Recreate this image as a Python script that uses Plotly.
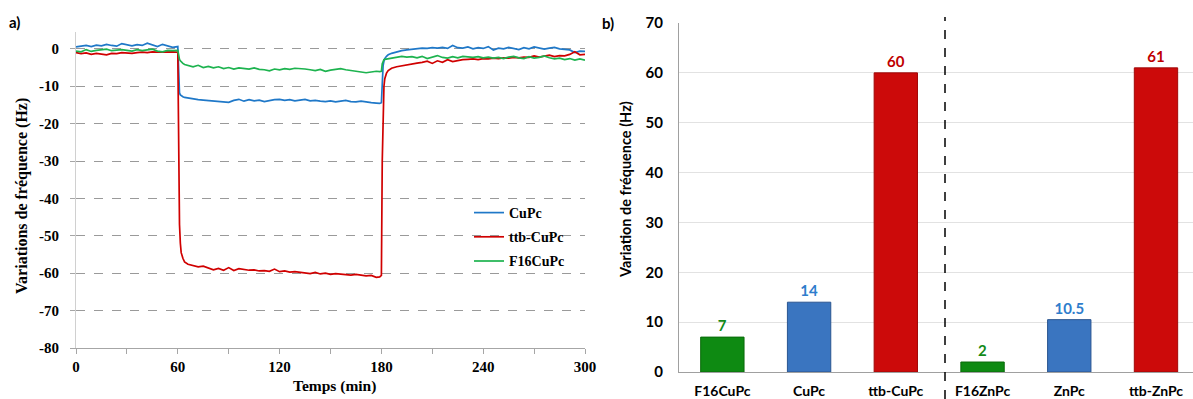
import plotly.graph_objects as go

# ---------------- data: panel a) ----------------
temps = [0, 3, 6, 9, 12, 15, 18, 21, 24, 27, 30, 33, 36, 39, 42, 45, 48, 51, 54, 57, 60,
         60.5, 61, 61.5, 62, 63, 64,
         66, 69, 72, 75, 78, 81, 84, 87, 90, 93, 96, 99, 102, 105, 108, 111, 114, 117, 120,
         123, 126, 129, 132, 135, 138, 141, 144, 147, 150, 153, 156, 159, 162, 165, 168, 171, 174, 177,
         179, 180, 180.5, 181, 181.5, 182, 183, 184,
         186, 189, 192, 195, 198, 201, 204, 207, 210, 213, 216, 219, 222, 225, 228, 231, 234, 237, 240,
         243, 246, 249, 252, 255, 258, 261, 264, 267, 270, 273, 276, 279, 282, 285, 288, 291, 294, 297, 300]

cupc = [0.5, 0.7, 0.9, 0.6, 1.0, 0.8, 1.2, 0.9, 0.7, 1.4, 1.0, 0.8, 1.1, 0.9, 1.5, 1.0, 0.6, 1.2, 0.8, 0.4, 0.6,
        -9.0, -11.8, -12.3, -12.5, -12.8, -13.0,
        -13.2, -13.4, -13.6, -13.7, -13.8, -13.9, -13.9, -14.0, -14.3, -13.8, -13.5, -14.0, -13.6, -13.9, -13.7,
        -14.1, -13.8, -13.6, -13.5, -13.8, -13.6, -13.9, -13.7, -13.5, -13.9, -13.8, -14.0, -14.1, -13.9, -14.2,
        -14.0, -13.8, -14.1, -14.2, -14.0, -14.3, -14.4, -14.5,
        -14.6, -14.4, -8.0, -4.5, -3.3, -2.6, -2.0, -1.6,
        -1.2, -0.8, -0.5, -0.3, -0.1, 0.1, 0.2, 0.1, 0.3, 0.2, 0.4, 0.1, 0.9, 0.3, 0.2, 0.5, 0.0, 0.3, 0.1, 0.6,
        -0.3, 0.2, 0.0, 0.4, 0.1, -0.2, 0.3, 0.0, 0.5, 0.1, -0.1, 0.2, 0.4, 0.0, -0.1, -0.3, -1.0, -0.6, -0.7]

ttb_cupc = [-1.0, -1.3, -1.1, -1.5, -1.2, -1.4, -1.6, -1.2, -1.3, -1.0, -1.1, -1.2, -1.0, -0.9, -1.0, -0.8,
            -0.9, -0.8, -0.7, -0.8, -0.9,
            -30.0, -47.0, -52.0, -54.5, -56.0, -57.0,
            -57.6, -58.0, -58.3, -58.1, -58.6, -59.1, -58.7, -59.2, -58.5, -59.3, -58.8, -59.0, -59.2, -59.1,
            -59.4, -59.3, -59.5, -58.9, -59.6, -59.4, -59.7, -59.6, -59.8, -59.9, -60.1, -59.8, -60.2, -60.0,
            -60.3, -60.1, -60.2, -60.4, -60.5, -60.3, -60.6, -60.7, -60.6, -61.1,
            -61.0, -60.6, -30.0, -14.5, -10.0, -8.0, -6.5, -5.8,
            -5.2, -4.8, -4.5, -4.3, -4.0, -3.8, -3.6, -3.3, -3.9, -3.2, -3.6, -2.9, -3.4, -3.1, -2.9, -2.8,
            -2.7, -2.9, -2.6, -2.7, -2.5, -2.6, -2.4, -2.5, -2.3, -2.4, -2.2, -2.3, -1.9, -2.2, -2.0, -1.7,
            -2.1, -1.8, -1.9, -1.5, -0.8, -1.6, -1.5]

f16cupc = [-0.6, -0.8, -0.2, -0.7, -0.4, -0.3, -0.1, -0.5, -0.3, -0.2, -0.4, -0.6, -0.2, -0.5, -0.3, -0.1,
           -0.6, -0.8, -0.4, -0.5, -0.4,
           -2.0, -2.8, -3.2, -3.5, -3.9, -4.2,
           -4.5, -4.8, -4.4, -5.0, -4.7, -5.1, -4.8, -5.3, -5.0, -5.4, -5.1, -5.2, -5.4, -5.1, -5.5, -5.6,
           -5.9, -5.4, -5.6, -5.3, -5.5, -5.2, -5.2, -5.4, -5.6, -5.8, -5.5, -6.0, -5.7, -5.4, -5.3, -5.6,
           -5.8, -5.9, -6.1, -6.4, -6.2, -6.0,
           -6.1, -6.0, -4.0, -3.0, -2.9, -2.8, -2.7, -2.6,
           -2.5, -2.3, -2.0, -2.2, -2.1, -2.4, -2.0, -2.6, -2.2, -1.8, -2.3, -2.5, -2.1, -2.4, -2.0, -2.2,
           -2.3, -2.1, -2.4, -2.2, -2.5, -2.3, -2.6, -2.2, -2.0, -2.4, -2.6, -2.1, -2.5, -2.3, -1.9, -2.4,
           -2.7, -2.5, -2.9, -2.6, -3.0, -2.7, -3.0]

a_xtickvals = [0, 30, 60, 90, 120, 150, 180, 210, 240, 270, 300]
a_xticktext = ["0", "", "60", "", "120", "", "180", "", "240", "", "300"]
a_ytickvals = [0, -10, -20, -30, -40, -50, -60, -70, -80]
a_yticktext = ["0", "-10", "-20", "-30", "-40", "-50", "-60", "-70", "-80"]

# ---------------- data: panel b) ----------------
categories = ["F16CuPc", "CuPc", "ttb-CuPc", "F16ZnPc", "ZnPc", "ttb-ZnPc"]
variation = [7, 14, 60, 2, 10.5, 61]
value_labels = ["7", "14", "60", "2", "10.5", "61"]
b_ytickvals = [0, 10, 20, 30, 40, 50, 60, 70]

GREEN = "#0e8a12"
BLUE = "#3a75c0"
RED = "#cc0a0a"
bar_colors = [GREEN, BLUE, RED, GREEN, BLUE, RED]
bar_lines = ["#0a6a0a", "#2a5590", "#a00808", "#0a6a0a", "#2a5590", "#a00808"]
label_colors = ["#138a18", "#2e7dcc", "#c00000", "#138a18", "#2e7dcc", "#c00000"]

W, H = 1193, 399
SERIF = "Liberation Serif"
SANS = "Lato"

fig = go.Figure()

fig.add_trace(go.Scatter(x=temps, y=cupc, mode="lines", name="CuPc", legendgroup="g1",
                         line=dict(color="#1f78c8", width=1.7), xaxis="x", yaxis="y"))
fig.add_trace(go.Scatter(x=temps, y=ttb_cupc, mode="lines", name="ttb-CuPc", legendgroup="g2",
                         line=dict(color="#d00000", width=1.7), xaxis="x", yaxis="y"))
fig.add_trace(go.Scatter(x=temps, y=f16cupc, mode="lines", name="F16CuPc", legendgroup="g3",
                         line=dict(color="#1db34f", width=1.7), xaxis="x", yaxis="y"))

fig.add_trace(go.Bar(x=list(range(len(categories))), y=variation, width=0.5,
                     marker=dict(color=bar_colors, line=dict(color=bar_lines, width=1)),
                     text=value_labels, textposition="outside", cliponaxis=False,
                     textfont=dict(family=SANS, size=15, color=label_colors, weight="bold"),
                     showlegend=False, xaxis="x2", yaxis="y2"))

fig.update_layout(
    template="none",
    width=W, height=H,
    margin=dict(l=0, r=0, t=0, b=0, autoexpand=False),
    paper_bgcolor="white", plot_bgcolor="white",
    showlegend=True,
    legend=dict(x=469 / W, y=1 - 197 / H, xanchor="left", yanchor="top",
                bgcolor="rgba(0,0,0,0)", font=dict(family=SERIF, size=14, color="black", weight="bold"),
                tracegroupgap=3, itemwidth=30),
    xaxis=dict(domain=[76 / W, 585 / W], range=[0, 300], tickvals=a_xtickvals, ticktext=a_xticktext,
               automargin=False,
               showgrid=False, zeroline=False, showline=True, linecolor="#a6a6a6", linewidth=1,
               ticks="outside", ticklen=5, tickcolor="#a6a6a6", ticklabelstandoff=0,
               tickfont=dict(family=SERIF, size=15, color="black", weight="bold"), anchor="y"),
    yaxis=dict(domain=[1 - 348 / H, 1 - 32 / H], range=[-80, 4.5], tickvals=a_ytickvals, ticktext=a_yticktext,
               automargin=False,
               showgrid=True, gridcolor="#9a9a9a", griddash="dash", gridwidth=1,
               zeroline=False, showline=True, linecolor="#d0d0d0", linewidth=1,
               ticks="outside", ticklen=5, tickcolor="#a6a6a6", ticklabelstandoff=8,
               tickfont=dict(family=SERIF, size=15, color="black", weight="bold"), anchor="x"),
    xaxis2=dict(domain=[679 / W, 1.0], range=[-0.5, (W - 722.5) / 86.7],
                tickvals=list(range(len(categories))), ticktext=categories, automargin=False,
                showgrid=False, zeroline=False, showline=True, linecolor="#a0a0a0", linewidth=1,
                ticks="outside", ticklen=6, tickcolor="rgba(0,0,0,0)",
                tickfont=dict(family=SANS, size=14, color="black", weight="bold"), anchor="y2"),
    yaxis2=dict(domain=[1 - 372 / H, 1 - 23 / H], range=[0, 70], tickvals=b_ytickvals, automargin=False,
                showgrid=True, gridcolor="#e2e2e2", gridwidth=1,
                zeroline=False, showline=True, linecolor="#a0a0a0", linewidth=1,
                ticks="outside", ticklen=12, tickcolor="rgba(0,0,0,0)",
                tickfont=dict(family=SANS, size=15, color="black", weight="bold"), anchor="x2"),
)

# dashed separator in panel b)
fig.add_shape(type="line", xref="paper", yref="paper", x0=945 / W, x1=945 / W, y0=0, y1=1 - 17 / H,
              line=dict(color="black", width=1.5, dash="dash"))

annots = [
    dict(text="a)", x=15 / W, y=1 - 22 / H, font=dict(family=SANS, size=15, weight="bold")),
    dict(text="b)", x=608 / W, y=1 - 23 / H, font=dict(family=SANS, size=15, weight="bold")),
    dict(text="Variations de fréquence (Hz)", x=22 / W, y=1 - 196 / H, textangle=-90,
         font=dict(family=SERIF, size=16, weight="bold")),
    dict(text="Temps (min)", x=334 / W, y=1 - 386 / H, font=dict(family=SERIF, size=15.5, weight="bold")),
    dict(text="Variation de fréquence (Hz)", x=625 / W, y=1 - 190 / H, textangle=-90,
         font=dict(family=SANS, size=14.5, weight="bold")),
]
for a in annots:
    a["font"]["color"] = "black"
    fig.add_annotation(xref="paper", yref="paper", showarrow=False, xanchor="center", yanchor="middle", **a)

fig.write_html("out.html", config={"displayModeBar": False},
               post_script="document.body.style.margin='0';document.body.style.overflow='hidden';")
